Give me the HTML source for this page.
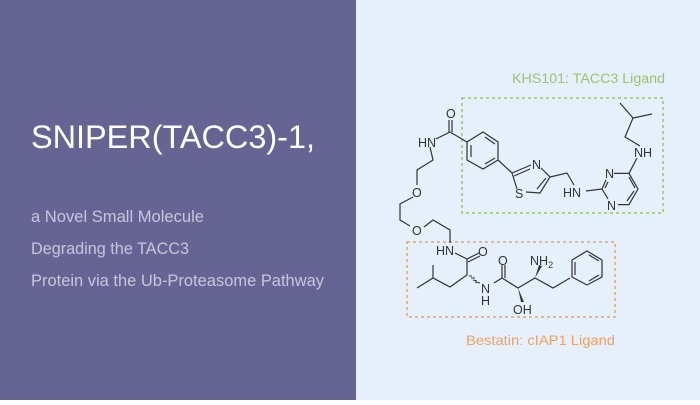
<!DOCTYPE html>
<html><head><meta charset="utf-8"><style>
html,body{margin:0;padding:0;}
body{width:700px;height:400px;overflow:hidden;}
</style></head><body>
<svg width="700" height="400" viewBox="0 0 700 400" xmlns="http://www.w3.org/2000/svg" font-family="Liberation Sans, sans-serif">
<rect x="0" y="0" width="700" height="400" fill="#e6f0fb"/>
<rect x="0" y="0" width="356" height="400" fill="#666492"/>
<text x="31" y="148" font-size="32" fill="#ffffff" textLength="284" lengthAdjust="spacingAndGlyphs">SNIPER(TACC3)-1,</text>
<g fill="#c8c6de" font-size="17">
<text x="31" y="222" textLength="173" lengthAdjust="spacingAndGlyphs">a Novel Small Molecule</text>
<text x="31" y="254" textLength="158" lengthAdjust="spacingAndGlyphs">Degrading the TACC3</text>
<text x="31" y="286" textLength="293" lengthAdjust="spacingAndGlyphs">Protein via the Ub-Proteasome Pathway</text>
</g>
<text x="512" y="83" font-size="14" fill="#9cc46a" textLength="153" lengthAdjust="spacingAndGlyphs">KHS101: TACC3 Ligand</text>
<text x="466" y="345" font-size="14" fill="#f0a060" textLength="149" lengthAdjust="spacingAndGlyphs">Bestatin: cIAP1 Ligand</text>
<rect x="462" y="98" width="201" height="115" fill="none" stroke="#9cc46a" stroke-width="1.5" stroke-dasharray="3,3"/>
<rect x="407" y="242" width="208" height="75" fill="none" stroke="#f0a060" stroke-width="1.5" stroke-dasharray="3,3"/>
<g stroke="#333" stroke-width="1.2" fill="none">
<!-- carbonyl -->
<path d="M449 132 L449 120 M452 132 L452 120"/>
<path d="M450 132 L467 142 M450 132 L436 139"/>
<!-- benzene -->
<path d="M483 132 L498 142 L498 160 L483 169 L467 160 L467 142 Z"/>
<path d="M485 137 L495 144 M495 158 L485 164 M471 157 L471 145"/>
<path d="M498 160 L512 173"/>
<!-- thiazole -->
<path d="M512 173 L531 165 M541 168 L550 177 L540 193 L526 192 M517 189 L512 173 M537 189 L546 178 M514 176 L530 169"/>
<path d="M550 177 L567 173 L574 185"/>
<path d="M586 191 L602 189"/>
<!-- pyrimidine -->
<path d="M602 189 L606 180 M614 173.4 L629 173.4 L638 189 L629 204.6 L618 204.6 M608 199 L602 189 M605 188 L608 182 M629 177 L635 188 M634 191 L627 201"/>
<path d="M629 173.4 L637 158"/>
<path d="M640 146 L625 137 L633 118 L620 103 M633 118 L652 114"/>
<!-- linker -->
<path d="M430 147 L433 160 L417 170 L417 185 M413 197 L400 204 L400 220 L410 226 M424 227 L433 220 L450 230 L450 243"/>
<!-- bestatin -->
<path d="M455 253 L467 259 L479 253 M468 262 L480 256 M467 259 L467 275 L450 287 L433 278 L417 288 M433 278 L433 265"/>
<path d="M502 278 L502 265 M505 278 L505 265 M494 283 L502 278 L518 288 L535 278 L553 288 L570 278"/>
<path d="M587 251 L602 260 L602 277 L587 285 L572 277 L572 260 Z M589 255 L599 261 M599 275 L589 281 M575 275 L575 262"/>
</g>
<g stroke="#333" stroke-width="1">
<path d="M469 276 L472 276 M471 278 L475 278 M473 280 L477 281 M475 282 L480 283"/>
</g>
<polygon points="518,288 521,302 524,302" fill="#333"/>
<polygon points="535,278 539,265 542,266" fill="#333"/>
<g font-size="12.5" fill="#333">
<text x="446" y="118">O</text>
<text x="418" y="147">HN</text>
<text x="532" y="169">N</text>
<text x="515" y="198">S</text>
<text x="563" y="197">HN</text>
<text x="605" y="178">N</text>
<text x="607" y="210">N</text>
<text x="634" y="157">NH</text>
<text x="412" y="197">O</text>
<text x="412" y="235">O</text>
<text x="436" y="255">HN</text>
<text x="478" y="256">O</text>
<text x="481" y="293">N</text>
<text x="481" y="305">H</text>
<text x="498" y="265">O</text>
<text x="530" y="265">NH<tspan font-size="9" dy="3">2</tspan></text>
<text x="513" y="314">OH</text>
</g>
</svg>
</body></html>
